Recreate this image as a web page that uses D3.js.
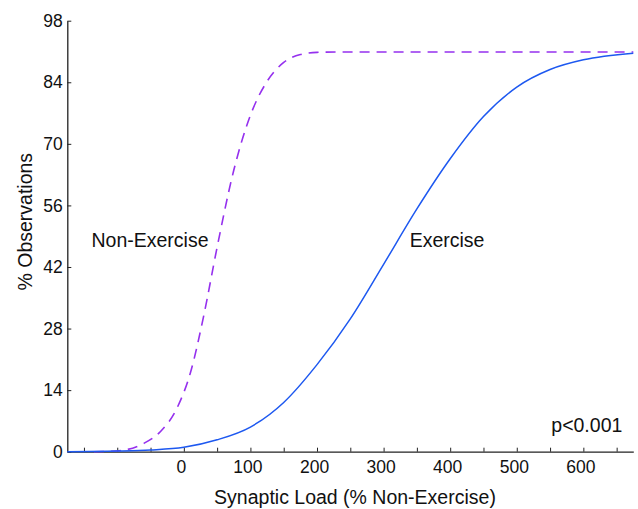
<!DOCTYPE html>
<html>
<head>
<meta charset="utf-8">
<script src="https://cdn.jsdelivr.net/npm/d3@7"></script>
<style>
  body { margin: 0; background: #fff; }
  svg  { display: block; font-family: "Liberation Sans", Arial, sans-serif; }
</style>
</head>
<body>
<div id="chart"></div>
<script>

/*
 * Cumulative distributions of synaptic load.
 */
var nonExerciseX = [-135, -110, -85, -60, -35, -10, 10, 30, 50, 75, 100, 125, 150, 175, 200, 250, 675];
var nonExerciseY = [0, 0.1, 0.5, 1.9, 4.6, 10.0, 18.0, 31.0, 46.5, 64.0, 76.5, 84.2, 88.5, 90.3, 90.8, 90.9, 90.9];

var exerciseX = [-175, -100, -50, 0, 50, 100, 150, 200, 250, 300, 350, 400, 450, 500, 550, 600, 675];
var exerciseY = [0, 0.15, 0.4, 1.0, 2.7, 5.6, 11.2, 19.8, 30.2, 42.6, 55.2, 66.6, 76.2, 82.9, 86.9, 89.1, 90.6];

var xTickLabels = [0, 100, 200, 300, 400, 500, 600];
var xTickMarks  = [-150, -100, -50, 0, 50, 100, 150, 200, 250, 300, 350, 400, 450, 500, 550, 600, 650];
var yTicks      = [0, 14, 28, 42, 56, 70, 84, 98];

var width  = 638,
    height = 509;

var svg = d3.select("#chart").append("svg")
  .attr("width",  width)
  .attr("height", height);

var x = d3.scaleLinear().domain([-175, 675]).range([67.3, 633.3]);
var y = d3.scaleLinear().domain([0, 98]).range([451.7, 20.7]);

// axes - ticks point into the plot
var xAxis = d3.axisBottom(x)
  .tickValues(xTickMarks)
  .tickSizeInner(-4)
  .tickSizeOuter(0)
  .tickPadding(8.5)
  .tickFormat(function(d) { return xTickLabels.indexOf(d) > -1 ? d : ""; });

var yAxis = d3.axisLeft(y)
  .tickValues(yTicks)
  .tickSizeInner(-4)
  .tickSizeOuter(0)
  .tickPadding(4.5);

var gx = svg.append("g")
  .attr("transform", "translate(0," + y(0) + ")")
  .call(xAxis);

var gy = svg.append("g")
  .attr("transform", "translate(" + x(-175) + ",0)")
  .call(yAxis);

[gx, gy].forEach(function(g) {
  g.select(".domain").attr("stroke", "#222").attr("stroke-width", 1.3);
  g.selectAll(".tick line").attr("stroke", "#222").attr("stroke-width", 1);
  g.selectAll(".tick text")
    .attr("fill",      "#111")
    .attr("font-size", 17.5)
    .attr("font-family", "Liberation Sans, Arial, sans-serif");
});

gx.selectAll(".tick text").attr("dx", -3);

// curves
var line = d3.line()
  .x(function(d) { return x(d[0]); })
  .y(function(d) { return y(d[1]); })
  .curve(d3.curveMonotoneX);

svg.append("path")
  .datum(d3.zip(nonExerciseX, nonExerciseY))
  .attr("fill",             "none")
  .attr("stroke",           "#9530ee")
  .attr("stroke-width",     1.6)
  .attr("stroke-dasharray", "10,7")
  .attr("d",                line);

svg.append("path")
  .datum(d3.zip(exerciseX, exerciseY))
  .attr("fill",         "none")
  .attr("stroke",       "#1d58f0")
  .attr("stroke-width", 1.5)
  .attr("d",            line);

// labels
function label(text, tx, ty, anchor, rotate) {
  var t = svg.append("text")
    .attr("font-size",   19.5)
    .attr("fill",        "#111")
    .attr("text-anchor", anchor)
    .text(text);
  if (rotate) {
    t.attr("transform", "translate(" + tx + "," + ty + ") rotate(-90)");
  } else {
    t.attr("x", tx).attr("y", ty);
  }
  return t;
}

label("Non-Exercise",                   91.5,  246.7, "start");
label("Exercise",                       409.7, 246.7, "start");
label("p<0.001",                        551.3, 431.7, "start");
label("Synaptic Load (% Non-Exercise)", 355,   503.5, "middle");
label("% Observations",                 31.7,  221.7, "middle", true);

</script>
</body>
</html>
